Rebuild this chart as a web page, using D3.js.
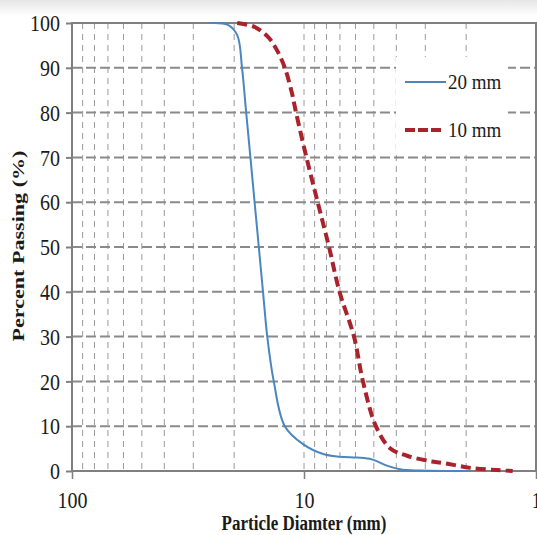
<!DOCTYPE html>
<html>
<head>
<meta charset="utf-8">
<script src="https://cdn.jsdelivr.net/npm/d3@7"></script>
<style>
  body { margin: 0; background: #fff; }
  svg { display: block; }
  text { font-family: "Liberation Serif", "Times New Roman", serif; fill: #1a1a1a; }
</style>
</head>
<body>
<div id="chart"></div>
<script>
// particle diameter (mm) and percent passing
const sizes20 = [25.4, 21.3, 19.4, 18.5, 17.75, 17.02, 16.33, 15.66, 15.02, 14.4, 13.5, 12.1, 10.1, 8.27, 7.0, 5.91, 5.1, 4.39, 3.86, 3.16, 1.92];
const pass20  = [100, 99.6, 97.3, 90, 80, 70, 60, 50, 40, 30, 20, 10, 6, 3.8, 3.2, 3.0, 2.6, 1.2, 0.4, 0.1, 0];

const sizes10 = [19.4, 16.3, 14.3, 13.1, 12.1, 11.3, 10.82, 9.76, 8.73, 7.80, 7.03, 6.09, 5.57, 4.90, 4.26, 3.60, 2.87, 2.52, 1.92, 1.47, 1.26];
const pass10  = [100, 99.1, 96.9, 94, 90, 84.6, 80, 70, 60, 50, 40, 30, 20, 10, 5.1, 3.4, 2.2, 1.8, 0.7, 0.2, 0];

const xTicks = [100, 10, 1];
const yTicks = [0, 10, 20, 30, 40, 50, 60, 70, 80, 90, 100];
const xGrid = [90, 80, 70, 60, 50, 40, 30, 20, 10, 9, 8, 7, 6, 5, 4, 3, 2];
const yGrid = [10, 20, 30, 40, 50, 60, 70, 80, 90];

const seriesNames = ["20 mm", "10 mm"];

const width = 537;
const height = 535;
const plotLeft = 72, plotRight = 536, plotTop = 23, plotBottom = 471;

const gridColor = "#8a8a8a";
const blue = "#4a86c0";
const red = "#a8232b";

const svg = d3.select("#chart")
  .append("svg")
  .attr("width", width)
  .attr("height", height);

// faint grey shading along the top edge of the scan
const grad = svg.append("defs").append("linearGradient")
  .attr("id", "topShade").attr("x1", 0).attr("y1", 0).attr("x2", 0).attr("y2", 1);
grad.append("stop").attr("offset", "0%").attr("stop-color", "#e6e6e6");
grad.append("stop").attr("offset", "100%").attr("stop-color", "#ffffff");
svg.append("rect").attr("x", 0).attr("y", 0).attr("width", width).attr("height", 16)
  .attr("fill", "url(#topShade)");

const xScale = d3.scaleLog()
  .domain([100, 1])
  .range([plotLeft, plotRight]);

const yScale = d3.scaleLinear()
  .domain([0, 100])
  .range([plotBottom, plotTop]);

// vertical minor grid
svg.append("g")
  .selectAll("line")
  .data(xGrid)
  .enter()
  .append("line")
  .attr("x1", d => xScale(d))
  .attr("x2", d => xScale(d))
  .attr("y1", plotTop)
  .attr("y2", plotBottom)
  .attr("stroke", "#9a9a9a")
  .attr("stroke-width", 1)
  .attr("stroke-dasharray", "6,5");

// horizontal grid
svg.append("g")
  .selectAll("line")
  .data(yGrid)
  .enter()
  .append("line")
  .attr("x1", plotLeft)
  .attr("x2", plotRight)
  .attr("y1", d => yScale(d))
  .attr("y2", d => yScale(d))
  .attr("stroke", gridColor)
  .attr("stroke-width", 2)
  .attr("stroke-dasharray", "10,4");

// legend background hides the grid behind it
svg.append("rect")
  .attr("x", 396)
  .attr("y", 57)
  .attr("width", 112)
  .attr("height", 93)
  .attr("fill", "#fff");

// frame
svg.append("rect")
  .attr("x", plotLeft)
  .attr("y", plotTop)
  .attr("width", plotRight - plotLeft)
  .attr("height", plotBottom - plotTop)
  .attr("fill", "none")
  .attr("stroke", "#7f7f7f")
  .attr("stroke-width", 2);

const xAxis = d3.axisBottom(xScale)
  .tickValues(xTicks)
  .tickFormat(d3.format("d"))
  .tickSize(8)
  .tickPadding(0);

const gx = svg.append("g")
  .attr("transform", `translate(0, ${plotBottom})`)
  .call(xAxis);
gx.select(".domain").remove();
gx.selectAll("line").attr("stroke", "#7f7f7f").attr("stroke-width", 1.5);
gx.selectAll("text")
  .attr("y", 31)
  .attr("dy", 0)
  .attr("transform", "scale(1,1.2)")
  .style("font-size", "20px");

const yAxis = d3.axisLeft(yScale)
  .tickValues(yTicks)
  .tickSize(6)
  .tickPadding(6);

const gy = svg.append("g")
  .attr("transform", `translate(${plotLeft}, 0)`)
  .call(yAxis);
gy.select(".domain").remove();
gy.selectAll("line").attr("stroke", "#7f7f7f").attr("stroke-width", 2);
gy.selectAll("text")
  .attr("transform", "scale(1,1.2)")
  .style("font-size", "20px");

const line = d3.line()
  .x(d => xScale(d[0]))
  .y(d => yScale(d[1]))
  .curve(d3.curveCatmullRom.alpha(0.5));

const data20 = sizes20.map((s, i) => [s, pass20[i]]);
const data10 = sizes10.map((s, i) => [s, pass10[i]]);

svg.append("path")
  .datum(data20)
  .attr("d", line)
  .attr("fill", "none")
  .attr("stroke", blue)
  .attr("stroke-width", 2);

svg.append("path")
  .datum(data10)
  .attr("d", line)
  .attr("fill", "none")
  .attr("stroke", red)
  .attr("stroke-width", 4)
  .attr("stroke-dasharray", "10,5");

// legend
const legend = svg.append("g");
legend.append("line")
  .attr("x1", 405).attr("x2", 446)
  .attr("y1", 82).attr("y2", 82)
  .attr("stroke", blue)
  .attr("stroke-width", 2);
legend.append("text")
  .attr("transform", "translate(448, 89) scale(1,1.15)")
  .style("font-size", "19px")
  .text(seriesNames[0]);
legend.append("line")
  .attr("x1", 405).attr("x2", 442)
  .attr("y1", 130).attr("y2", 130)
  .attr("stroke", red)
  .attr("stroke-width", 4)
  .attr("stroke-dasharray", "10,3");
legend.append("text")
  .attr("transform", "translate(448, 137) scale(1,1.15)")
  .style("font-size", "19px")
  .text(seriesNames[1]);

// axis titles
svg.append("text")
  .attr("transform", "translate(304, 530) scale(1,1.2)")
  .attr("text-anchor", "middle")
  .style("font-size", "17px")
  .style("font-weight", "bold")
  .text("Particle Diamter (mm)");

svg.append("text")
  .attr("transform", "translate(24, 246) rotate(-90) scale(1.3,1)")
  .attr("text-anchor", "middle")
  .style("font-size", "17px")
  .style("font-weight", "bold")
  .text("Percent Passing (%)");
</script>
</body>
</html>
